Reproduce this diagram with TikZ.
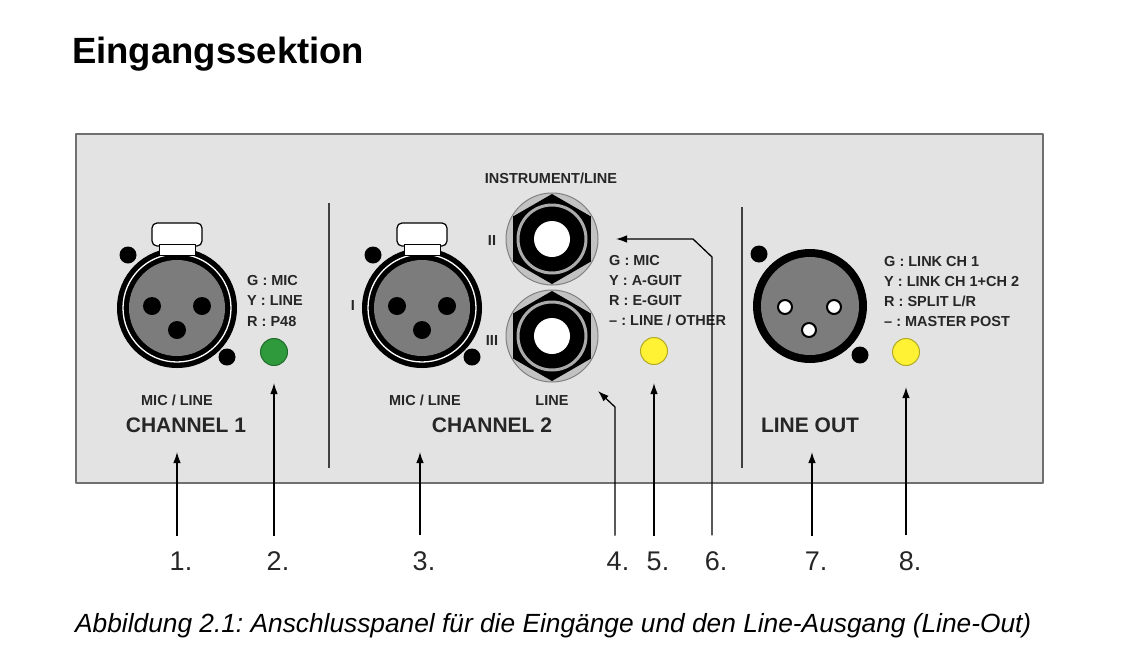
\documentclass[tikz,border=0pt]{standalone}
\usepackage{fontspec}
\setmainfont{Liberation Sans}
\usetikzlibrary{arrows.meta}
\definecolor{panelgray}{HTML}{E3E3E3}
\definecolor{paneledge}{HTML}{707070}
\definecolor{xlrgray}{HTML}{7C7C7C}
\definecolor{jackgray}{HTML}{C2C2C2}
\definecolor{ringgray}{HTML}{ABABAB}
\definecolor{ledgreen}{HTML}{2E9A3C}
\definecolor{ledyellow}{HTML}{FFF235}
\frenchspacing
\begin{document}
\begin{tikzpicture}[x=1pt,y=-1pt,>={Latex[length=11pt,width=7.5pt]},line join=round,
    lab/.style={font=\bfseries\fontsize{14.5}{16}\selectfont,text=black!85,inner sep=0pt,text height=10pt,text depth=0pt},
    big/.style={font=\bfseries\fontsize{21}{24}\selectfont,text=black!85,inner sep=0pt,text height=15pt,text depth=0pt},
    num/.style={font=\fontsize{27}{30}\selectfont,text=black!85,inner sep=0pt,outer ysep=16pt},
    led/.style={circle,inner sep=0pt,minimum size=27pt,line width=1pt},
    arr/.style={->,line width=1.3pt}]
\useasboundingbox (0,0) rectangle (1124,659);
\node[anchor=base west,inner sep=0pt,font=\bfseries\fontsize{36.5}{40}\selectfont] (title) at (72,63) {Eingangssektion};
\draw[fill=panelgray,draw=paneledge,line width=1.3pt] (76,134) rectangle (1043,483);
\draw[line width=2pt,black!75] (329,203) -- (329,468);
\draw[line width=2pt,black!75] (742,207) -- (742,468);
% XLR inputs
\foreach \cx in {177,422}{
  \draw[fill=white,line width=1.2pt,rounded corners=5pt] (\cx-25,223) rectangle (\cx+25,246);
  \fill (\cx,308) circle (60);
  \draw[white,line width=1.3pt] (\cx,308) circle (54);
  \fill[xlrgray] (\cx,308) circle (48);
  \draw[fill=white,line width=1pt] (\cx-18,244) rectangle (\cx+18,255);
  \fill (\cx-25,306) circle (9) (\cx+25,306) circle (9) (\cx,330) circle (9);
  \fill (\cx-49,255) circle (8.5) (\cx+50,357) circle (8.5);
}
% jacks
\foreach \cy in {239,336}{
  \draw[fill=jackgray,draw=gray,line width=1pt] (552,\cy) circle (46);
  \fill (552,\cy) +(30:45) -- +(90:45) -- +(150:45) -- +(210:45) -- +(270:45) -- +(330:45) -- cycle;
  \draw[ringgray,line width=3pt] (552,\cy) circle (34);
  \fill[white] (552,\cy) circle (18);
}
% line out
\fill (810,306) circle (57);
\fill[xlrgray] (810,306) circle (49);
\draw[fill=white,line width=2pt] (785,307) circle (7) (834,307) circle (7) (809,330) circle (7);
\fill (759,254) circle (8.5) (860,355) circle (8.5);
% leds
\node[led,fill=ledgreen,draw=ledgreen!70!black] (led1) at (274,352) {};
\node[led,fill=ledyellow,draw=ledyellow!70!black] (led2) at (654,351) {};
\node[led,fill=ledyellow,draw=ledyellow!70!black] (led3) at (906,352) {};
\foreach \txt [count=\i] in {G : MIC, Y : LINE, R : P48}
  \node[lab,anchor=west] (ga\i) at (247,259.5+20.5*\i) {\txt};
\foreach \txt [count=\i] in {G : MIC, Y : A-GUIT, R : E-GUIT, {--} : LINE / OTHER}
  \node[lab,anchor=west] (gb\i) at (609,239.7+20.3*\i) {\txt};
\foreach \txt [count=\i] in {G : LINK CH 1, Y : LINK CH 1+CH 2, R : SPLIT L/R, {--} : MASTER POST}
  \node[lab,anchor=west] (gc\i) at (884,241+20*\i) {\txt};
\node[lab] (mic1) at (177,400) {MIC / LINE};
\node[big] (ch1) at (186,425) {CHANNEL 1};
\node[lab] (mic2) at (425,400) {MIC / LINE};
\node[lab] (line2) at (552,400) {LINE};
\node[big] (ch2) at (492,425) {CHANNEL 2};
\node[lab] (instr) at (551,178) {INSTRUMENT/LINE};
\node[big] (lo) at (810,425) {LINE OUT};
\node[lab] (in1) at (353,305) {I};
\node[lab] (in2) at (492,240) {II};
\node[lab] (in3) at (492,340) {III};
% callouts
\coordinate (t1) at (177,452);
\coordinate (t2) at (274,383);
\coordinate (t3) at (420,452);
\coordinate (t4) at (598,391);
\coordinate (t5) at (654,383);
\coordinate (t6) at (616,239);
\coordinate (t7) at (812,452);
\coordinate (t8) at (906,387);
\coordinate (b4) at (615,407);
\coordinate (b6) at (712,257);
\foreach \x/\n in {177/1,274/2,420/3,614/4,654/5,712/6,812/7,906/8}
  \node[num] (n\n) at (\x+4,561) {\n.};
\foreach \i in {1,2,3,5,7,8}
  \draw[arr] (n\i.north -| t\i) -- (t\i);
\draw[arr] (n4.north -| b4) -- (b4) -- (t4);
\draw[arr] (n6.north -| b6) -- (b6) -- ++(-19,-18) -- (t6);
\node[anchor=base west,inner sep=0pt,font=\itshape\fontsize{26.3}{30}\selectfont] (caption) at (75,632) {Abbildung 2.1: Anschlusspanel für die Eingänge und den Line-Ausgang (Line-Out)};
\end{tikzpicture}
\end{document}
